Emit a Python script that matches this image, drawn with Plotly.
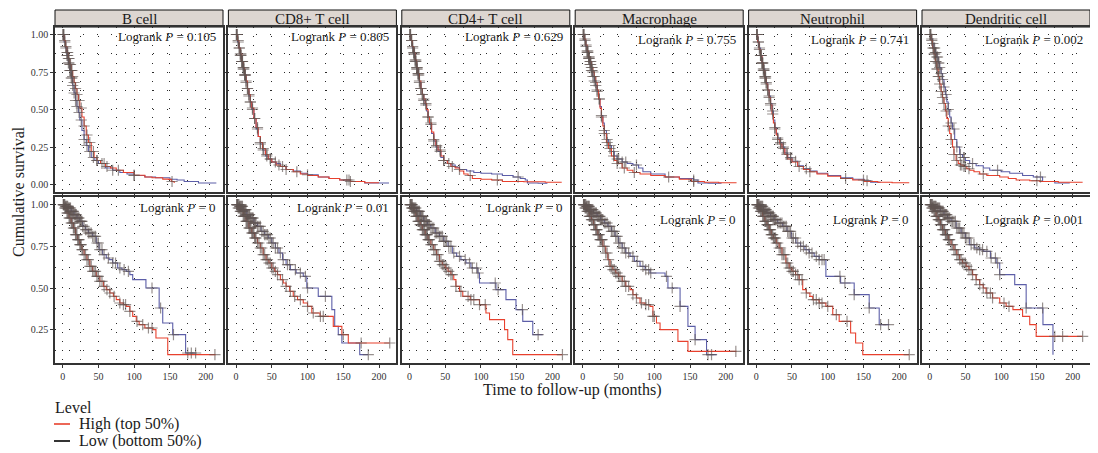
import numpy as np
import plotly.graph_objects as go

# ---------------- data ----------------
CELLS = ["B cell", "CD8+ T cell", "CD4+ T cell", "Macrophage", "Neutrophil", "Dendritic cell"]
COHORTS = ["GBM", "LGG"]
PVALS_GBM = ["0.105", "0.805", "0.629", "0.755", "0.741", "0.002"]
PVALS_LGG = ["0", "0.01", "0", "0", "0", "0.001"]
X_TICKS = [0, 50, 100, 150, 200]
LEGEND_LABELS = ["High (top 50%)", "Low (bottom 50%)"]

# ---- GBM (top row) ----
GBM_B_HIGH_T = [0, 2, 4, 6, 8, 10, 12, 14, 16, 18, 20, 22, 24, 27, 30, 33, 36, 40, 44, 48, 53, 60, 67, 75, 85, 100, 115, 125, 140, 148, 152, 156]
GBM_B_HIGH_S = [1, .96, .92, .88, .84, .80, .76, .72, .68, .64, .60, .56, .51, .45, .39, .33, .28, .22, .18, .16, .14, .12, .11, .095, .08, .062, .05, .045, .036, .034, .02, .01]
GBM_B_LOW_T = [0, 2, 4, 6, 8, 10, 12, 14, 16, 18, 20, 22, 24, 27, 30, 33, 36, 40, 45, 50, 60, 70, 80, 90, 100, 115, 130, 150, 160, 170, 190, 215]
GBM_B_LOW_S = [1, .95, .91, .86, .81, .76, .71, .66, .61, .56, .52, .48, .43, .36, .30, .26, .22, .18, .16, .14, .11, .095, .08, .07, .06, .05, .045, .035, .03, .02, .01, .01]

GBM_CD8_HIGH_T = [0, 2, 4, 6, 8, 10, 12, 14, 16, 18, 20, 22, 25, 28, 31, 34, 37, 41, 45, 50, 56, 62, 70, 80, 90, 100, 115, 130, 145, 160, 180, 200]
GBM_CD8_HIGH_S = [1, .96, .91, .87, .82, .78, .73, .69, .64, .60, .55, .51, .44, .38, .32, .28, .24, .20, .17, .15, .13, .12, .10, .085, .07, .06, .05, .04, .03, .02, .012, .012]
GBM_CD8_LOW_T = [0, 2, 4, 6, 8, 10, 12, 14, 16, 18, 20, 22, 25, 28, 31, 34, 37, 41, 45, 50, 56, 62, 70, 80, 90, 100, 115, 130, 145, 160, 180, 200, 214]
GBM_CD8_LOW_S = [1, .95, .91, .86, .82, .77, .73, .68, .64, .59, .55, .50, .44, .37, .32, .27, .23, .19, .17, .15, .14, .12, .10, .09, .075, .065, .05, .04, .03, .02, .01, .01, .01]

GBM_CD4_HIGH_T = [0, 2, 4, 6, 8, 10, 12, 14, 16, 18, 20, 22, 24, 26, 28, 31, 34, 37, 40, 44, 48, 53, 58, 64, 70, 76, 82, 88, 100, 115, 130, 160, 190, 213]
GBM_CD4_HIGH_S = [1, .96, .92, .88, .83, .78, .74, .69, .64, .60, .57, .54, .50, .45, .41, .35, .30, .26, .23, .19, .16, .14, .12, .11, .09, .07, .06, .04, .035, .03, .02, .018, .015, .015]
GBM_CD4_LOW_T = [0, 2, 4, 6, 8, 10, 12, 14, 16, 18, 20, 22, 24, 26, 28, 31, 34, 37, 40, 44, 48, 53, 58, 64, 70, 80, 90, 100, 115, 130, 145, 155, 162, 165, 180, 193]
GBM_CD4_LOW_S = [1, .96, .91, .87, .82, .77, .73, .68, .64, .60, .56, .53, .49, .45, .40, .34, .29, .25, .22, .18, .16, .14, .13, .115, .10, .09, .08, .075, .07, .06, .05, .04, .03, .01, .008, .008]

GBM_MAC_HIGH_T = [0, 2, 4, 6, 8, 10, 12, 14, 16, 18, 20, 22, 24, 26, 28, 30, 33, 36, 40, 44, 48, 55, 62, 70, 80, 95, 115, 135, 152, 170, 190, 215]
GBM_MAC_HIGH_S = [1, .97, .93, .89, .85, .82, .78, .75, .72, .68, .63, .57, .51, .45, .39, .34, .28, .24, .19, .16, .14, .11, .095, .08, .07, .06, .05, .035, .02, .015, .012, .012]
GBM_MAC_LOW_T = [0, 2, 4, 6, 8, 10, 12, 14, 16, 18, 20, 22, 24, 26, 28, 30, 33, 36, 40, 44, 48, 55, 62, 70, 78, 84, 95, 115, 135, 155, 161, 175, 194]
GBM_MAC_LOW_S = [1, .96, .92, .88, .84, .80, .76, .72, .69, .66, .62, .57, .52, .46, .41, .36, .30, .26, .22, .19, .17, .15, .14, .13, .11, .085, .07, .05, .04, .03, .01, .008, .008]

GBM_NEU_HIGH_T = [0, 2, 4, 6, 8, 10, 12, 14, 16, 18, 20, 22, 24, 26, 28, 30, 33, 36, 40, 44, 50, 58, 66, 75, 85, 100, 118, 135, 151, 170, 190, 214]
GBM_NEU_HIGH_S = [1, .95, .90, .86, .81, .76, .71, .67, .63, .58, .53, .47, .41, .37, .33, .30, .27, .24, .20, .17, .15, .12, .10, .085, .07, .055, .04, .03, .02, .015, .012, .012]
GBM_NEU_LOW_T = [0, 2, 4, 6, 8, 10, 12, 14, 16, 18, 20, 22, 24, 26, 28, 30, 33, 36, 40, 44, 50, 58, 66, 75, 85, 100, 118, 135, 151, 160, 174]
GBM_NEU_LOW_S = [1, .95, .91, .86, .81, .77, .72, .68, .63, .59, .54, .49, .43, .38, .34, .31, .28, .25, .21, .18, .155, .125, .105, .09, .075, .06, .045, .035, .025, .015, .015]

GBM_DC_HIGH_T = [0, 2, 4, 6, 8, 10, 12, 14, 16, 18, 20, 22, 24, 26, 28, 30, 32, 34, 37, 40, 43, 47, 52, 56, 62, 70, 80, 98, 110, 121, 140, 154, 180, 214]
GBM_DC_HIGH_S = [1, .96, .91, .87, .82, .77, .72, .67, .62, .58, .54, .49, .44, .39, .34, .30, .25, .20, .16, .14, .13, .12, .105, .095, .085, .07, .06, .05, .04, .03, .025, .02, .015, .015]
GBM_DC_LOW_T = [0, 2, 4, 6, 8, 10, 12, 14, 16, 18, 20, 22, 24, 26, 28, 30, 32, 35, 38, 42, 46, 50, 56, 65, 75, 84, 100, 112, 130, 145, 158, 175, 196]
GBM_DC_LOW_S = [1, .97, .94, .91, .88, .85, .81, .78, .74, .70, .65, .60, .55, .50, .45, .41, .37, .30, .25, .20, .18, .16, .14, .125, .11, .095, .085, .075, .06, .05, .02, .01, .01]

# ---- LGG (bottom row) ----
LGG_B_HIGH_T = [0, 3, 6, 9, 12, 15, 18, 21, 24, 27, 30, 34, 38, 42, 47, 52, 57, 61, 66, 71, 75, 80, 85, 89, 94, 98, 103, 107, 115, 126, 130.5, 147, 214]
LGG_B_HIGH_S = [1, .98, .95, .92, .89, .86, .82, .79, .76, .73, .70, .67, .63, .60, .57, .54, .51, .49, .47, .45, .43, .41, .40, .39, .36, .33, .30, .28, .26, .25, .20, .10, .10]
LGG_B_LOW_T = [0, 4, 8, 12, 16, 20, 24, 28, 32, 36, 42, 47, 51, 56, 61, 65, 70, 77, 83, 89, 94, 98, 116.5, 135, 140, 154, 172, 186]
LGG_B_LOW_S = [1, .99, .98, .96, .94, .92, .90, .87, .85, .83, .81, .77, .73, .70, .68, .67, .65, .62, .61, .60, .58, .55, .50, .38, .29, .22, .11, .11]

LGG_CD8_HIGH_T = [0, 3, 6, 10, 14, 18, 22, 26, 30, 34, 38, 42, 46, 50, 54, 58, 62, 66, 70, 75, 80, 86, 94, 100, 106, 117.5, 136, 148, 157, 215]
LGG_CD8_HIGH_S = [1, .98, .96, .93, .90, .86, .83, .80, .77, .74, .70, .67, .65, .62, .60, .58, .55, .53, .51, .48, .45, .43, .41, .39, .35, .33, .27, .22, .17, .17]
LGG_CD8_LOW_T = [0, 5, 10, 15, 20, 25, 30, 35, 40, 45, 50, 55, 60, 65, 70, 76, 84, 94, 99, 115, 134, 138, 143, 148, 173, 185]
LGG_CD8_LOW_S = [1, .99, .97, .94, .92, .89, .87, .84, .82, .80, .77, .74, .71, .67, .64, .61, .59, .57, .50, .45, .37, .27, .22, .17, .10, .10]

LGG_CD4_HIGH_T = [0, 3, 6, 9, 12, 15, 18, 22, 26, 30, 34, 38, 42, 46, 50, 54, 58, 62, 65, 70, 74.6, 85, 98, 107, 112, 133, 137.5, 144.5, 214]
LGG_CD4_HIGH_S = [1, .98, .96, .93, .90, .88, .85, .82, .79, .76, .73, .70, .66, .64, .62, .60, .58, .55, .51, .48, .45, .43, .40, .35, .31, .25, .19, .10, .10]
LGG_CD4_LOW_T = [0, 5, 10, 15, 20, 25, 30, 36, 42, 48, 54, 60, 66, 72, 79, 86, 95.6, 98, 121, 135, 149, 158.5, 172.5, 186.5]
LGG_CD4_LOW_S = [1, .98, .96, .93, .90, .88, .86, .83, .81, .78, .75, .71, .69, .67, .65, .62, .59, .53, .49, .43, .37, .30, .22, .22]

LGG_MAC_HIGH_T = [0, 3, 6, 9, 12, 15, 18, 21, 24, 28, 32, 35, 38, 42, 46, 50, 55, 60, 66, 70, 75, 80, 87, 94, 98, 103, 108, 133, 147, 215]
LGG_MAC_HIGH_S = [1, .98, .96, .93, .91, .88, .85, .82, .79, .75, .71, .67, .63, .61, .59, .57, .54, .51, .49, .46, .44, .41, .40, .39, .33, .29, .25, .18, .12, .12]
LGG_MAC_LOW_T = [0, 5, 10, 15, 20, 25, 30, 35, 40, 45, 50, 55, 60, 66, 72, 80, 87, 94, 115, 119, 136, 147, 157, 173, 187]
LGG_MAC_LOW_S = [1, .99, .97, .95, .93, .91, .89, .87, .84, .81, .77, .74, .71, .69, .66, .63, .61, .59, .57, .50, .39, .27, .19, .10, .10]

LGG_NEU_HIGH_T = [0, 3, 6, 9, 12, 15, 18, 21, 24, 28, 32, 36, 41.5, 46, 50, 55, 60, 65, 70, 75, 79, 88, 97.4, 107, 116, 132, 139, 149, 214]
LGG_NEU_HIGH_S = [1, .98, .96, .93, .90, .88, .85, .82, .80, .77, .74, .70, .65, .62, .60, .58, .55, .49, .47, .45, .43, .41, .39, .34, .30, .23, .17, .10, .10]
LGG_NEU_LOW_T = [0, 5, 10, 15, 20, 25, 30, 37, 43, 49, 55.5, 62, 68, 74, 81, 88, 97.4, 118, 137, 158, 172, 186]
LGG_NEU_LOW_S = [1, .99, .97, .95, .93, .91, .89, .87, .84, .80, .77, .75, .73, .71, .69, .67, .57, .53, .46, .38, .28, .28]

LGG_DC_HIGH_T = [0, 3, 6, 9, 12, 15, 18, 22, 26, 30, 34, 38, 42, 46, 51, 55, 60, 65, 70, 75, 79, 88, 98, 107, 116.5, 130, 140, 149, 214]
LGG_DC_HIGH_S = [1, .98, .96, .93, .91, .88, .85, .82, .79, .76, .73, .70, .67, .65, .63, .61, .58, .55, .52, .50, .47, .44, .41, .39, .37, .33, .28, .21, .21]
LGG_DC_LOW_T = [0, 5, 10, 15, 20, 25, 30, 37, 44, 50, 56, 63, 70, 75, 85, 93, 98, 119, 135, 158.5, 172.5]
LGG_DC_LOW_S = [1, .99, .98, .96, .94, .92, .90, .86, .83, .80, .76, .74, .73, .72, .68, .65, .58, .52, .38, .28, .10]

# ---- censoring times ----
GBM_CENSOR_EARLY = [0.5, 1.5, 3, 4.5, 6, 7, 8, 9, 10, 11, 12, 13, 14, 16, 18, 20, 23, 26, 30, 34, 38, 43, 48]
GBM_B_HIGH_CENS = [55, 62, 78, 100, 153]
GBM_B_LOW_CENS = [58, 70, 100]
GBM_CD8_HIGH_CENS = [60, 70, 85, 155, 160]
GBM_CD8_LOW_CENS = [55, 65, 100, 158]
GBM_CD4_HIGH_CENS = [60, 85, 123]
GBM_CD4_LOW_CENS = [55, 70, 152]
GBM_MAC_HIGH_CENS = [58, 72, 120, 155]
GBM_MAC_LOW_CENS = [50, 55, 60, 75, 155]
GBM_NEU_HIGH_CENS = [60, 75, 125, 150]
GBM_NEU_LOW_CENS = [55, 70, 155]
GBM_DC_HIGH_CENS = [45, 50, 55, 75, 150]
GBM_DC_LOW_CENS = [48, 60, 95, 155]

LGG_CENSOR_EARLY = [1, 2, 3, 4, 5, 6, 7, 8, 9, 10, 11, 12, 13, 14, 15, 16, 17, 18, 19, 20, 21, 22, 23, 24, 25, 26, 27, 28,
                    30, 32, 34, 36, 38, 40, 42, 44, 46, 48, 50, 52, 55, 58]
LGG_B_HIGH_CENS = [62, 66, 72, 80, 85, 88, 94, 104, 112, 120, 125, 213]
LGG_B_LOW_CENS = [64, 70, 74, 80, 86, 92, 125, 137, 155, 175, 180, 186]
LGG_CD8_HIGH_CENS = [65, 70, 76, 82, 90, 100, 108, 118, 122, 150, 175, 215]
LGG_CD8_LOW_CENS = [62, 66, 72, 75, 83, 90, 97, 100, 125, 185]
LGG_CD4_HIGH_CENS = [60, 65, 72, 82, 86, 90, 98, 106, 214]
LGG_CD4_LOW_CENS = [62, 70, 78, 84, 88, 94, 96, 120, 124, 158, 180]
LGG_MAC_HIGH_CENS = [60, 64, 70, 75, 82, 88, 92, 98, 100, 214]
LGG_MAC_LOW_CENS = [60, 64, 70, 76, 84, 88, 92, 95, 117, 125, 136, 157, 175, 180]
LGG_NEU_HIGH_CENS = [60, 64, 70, 80, 84, 88, 92, 100, 112, 127, 214]
LGG_NEU_LOW_CENS = [62, 66, 70, 74, 78, 84, 88, 92, 95, 117, 124, 137, 158, 174, 185]
LGG_DC_HIGH_CENS = [60, 65, 70, 75, 80, 85, 88, 104, 111, 175, 186, 214]
LGG_DC_LOW_CENS = [62, 66, 70, 74, 80, 86, 92, 95, 98, 135, 158]

PANELS = [
    [(GBM_B_HIGH_T, GBM_B_HIGH_S, GBM_B_HIGH_CENS, GBM_B_LOW_T, GBM_B_LOW_S, GBM_B_LOW_CENS),
     (GBM_CD8_HIGH_T, GBM_CD8_HIGH_S, GBM_CD8_HIGH_CENS, GBM_CD8_LOW_T, GBM_CD8_LOW_S, GBM_CD8_LOW_CENS),
     (GBM_CD4_HIGH_T, GBM_CD4_HIGH_S, GBM_CD4_HIGH_CENS, GBM_CD4_LOW_T, GBM_CD4_LOW_S, GBM_CD4_LOW_CENS),
     (GBM_MAC_HIGH_T, GBM_MAC_HIGH_S, GBM_MAC_HIGH_CENS, GBM_MAC_LOW_T, GBM_MAC_LOW_S, GBM_MAC_LOW_CENS),
     (GBM_NEU_HIGH_T, GBM_NEU_HIGH_S, GBM_NEU_HIGH_CENS, GBM_NEU_LOW_T, GBM_NEU_LOW_S, GBM_NEU_LOW_CENS),
     (GBM_DC_HIGH_T, GBM_DC_HIGH_S, GBM_DC_HIGH_CENS, GBM_DC_LOW_T, GBM_DC_LOW_S, GBM_DC_LOW_CENS)],
    [(LGG_B_HIGH_T, LGG_B_HIGH_S, LGG_B_HIGH_CENS, LGG_B_LOW_T, LGG_B_LOW_S, LGG_B_LOW_CENS),
     (LGG_CD8_HIGH_T, LGG_CD8_HIGH_S, LGG_CD8_HIGH_CENS, LGG_CD8_LOW_T, LGG_CD8_LOW_S, LGG_CD8_LOW_CENS),
     (LGG_CD4_HIGH_T, LGG_CD4_HIGH_S, LGG_CD4_HIGH_CENS, LGG_CD4_LOW_T, LGG_CD4_LOW_S, LGG_CD4_LOW_CENS),
     (LGG_MAC_HIGH_T, LGG_MAC_HIGH_S, LGG_MAC_HIGH_CENS, LGG_MAC_LOW_T, LGG_MAC_LOW_S, LGG_MAC_LOW_CENS),
     (LGG_NEU_HIGH_T, LGG_NEU_HIGH_S, LGG_NEU_HIGH_CENS, LGG_NEU_LOW_T, LGG_NEU_LOW_S, LGG_NEU_LOW_CENS),
     (LGG_DC_HIGH_T, LGG_DC_HIGH_S, LGG_DC_HIGH_CENS, LGG_DC_LOW_T, LGG_DC_LOW_S, LGG_DC_LOW_CENS)],
]
CENSOR_EARLY = [GBM_CENSOR_EARLY, LGG_CENSOR_EARLY]
PVALS = [PVALS_GBM, PVALS_LGG]

# ---------------- styling / layout ----------------
W, H = 1098, 453
OFF = 8  # page body margin: figure is drawn 8px in from the window corner
FONT = "Liberation Serif"
RED = "#E8402D"
BLUE = "#5C5EA8"
MARK = "rgba(95,85,82,0.65)"
STRIP_FILL = "#DDD6D1"
GRID = "#2a2a2a"

COL_LEFT = [55, 228.4, 401.8, 575.2, 748.6, 922]
PANEL_W = 168
ROW_TB = [(27, 192), (197, 363)]
X_RANGE = [-10.7, 224.3]
Y_RANGES = [[-0.05, 1.05], [0.05, 1.046]]
LABEL_Y = [[0.985, 0.985, 0.985, 0.965, 0.965, 0.965], [0.985, 0.985, 0.985, 0.91, 0.91, 0.91]]


def px_x(p):
    return (p - OFF) / W


def px_y(p):
    return 1 - (p - OFF) / H


def step_value(ts, ss, t):
    ts = np.asarray(ts, dtype=float)
    ss = np.asarray(ss, dtype=float)
    idx = np.searchsorted(ts, t, side="right") - 1
    idx = np.clip(idx, 0, len(ss) - 1)
    return ss[idx]


fig = go.Figure()
layout = dict(
    width=W, height=H, margin=dict(l=0, r=0, t=0, b=0),
    paper_bgcolor="white", plot_bgcolor="white", showlegend=False,
    font=dict(family=FONT, color="#1a1a1a"),
)
annotations = []
shapes = []

for r in range(2):
    top, bot = ROW_TB[r]
    for c in range(6):
        k = r * 6 + c + 1
        xn = "x" if k == 1 else f"x{k}"
        yn = "y" if k == 1 else f"y{k}"
        hi_t, hi_s, hi_c, lo_t, lo_s, lo_c = PANELS[r][c]
        for ts, ss, cens, col in ((lo_t, lo_s, lo_c, BLUE), (hi_t, hi_s, hi_c, RED)):
            fig.add_trace(go.Scatter(x=ts, y=ss, mode="lines", line=dict(color=col, width=1.1, shape="hv"),
                                     xaxis=xn, yaxis=yn, hoverinfo="skip"))
        for ts, ss, cens in ((lo_t, lo_s, lo_c), (hi_t, hi_s, hi_c)):
            ct = np.array([t for t in CENSOR_EARLY[r] + cens if t <= ts[-1]], dtype=float)
            cy = step_value(ts, ss, ct)
            fig.add_trace(go.Scatter(x=ct, y=cy, mode="markers",
                                     marker=dict(symbol="cross-thin", size=8, color=MARK,
                                                 line=dict(width=1.2, color=MARK)),
                                     xaxis=xn, yaxis=yn, hoverinfo="skip"))
        axkey = "xaxis" if k == 1 else f"xaxis{k}"
        aykey = "yaxis" if k == 1 else f"yaxis{k}"
        layout[axkey] = dict(
            domain=[px_x(COL_LEFT[c]), px_x(COL_LEFT[c] + PANEL_W)], anchor=yn,
            range=X_RANGE, tickmode="array", tickvals=X_TICKS, showticklabels=(r == 1),
            ticks="outside", ticklen=3, tickwidth=1, tickcolor="#333",
            tickfont=dict(size=10, color="#333", family=FONT),
            showline=True, mirror=True, linecolor="#333", linewidth=1.5, zeroline=False,
            showgrid=True, gridcolor=GRID, gridwidth=1, griddash="1px,8px",
            minor=dict(tickvals=[25, 75, 125, 175, 225], showgrid=True, gridcolor=GRID, gridwidth=1,
                       griddash="1px,8px", ticks=""),
        )
        layout[aykey] = dict(
            domain=[px_y(bot), px_y(top)], anchor=xn,
            range=Y_RANGES[r], tickmode="linear", tick0=0, dtick=0.25, tickformat=".2f",
            showticklabels=(c == 0),
            ticks="outside", ticklen=3, tickwidth=1, tickcolor="#333",
            tickfont=dict(size=10, color="#333", family=FONT),
            showline=True, mirror=True, linecolor="#333", linewidth=1.5, zeroline=False,
            showgrid=True, gridcolor=GRID, gridwidth=1, griddash="1px,13px",
            minor=dict(tick0=0, dtick=0.125, showgrid=True, gridcolor=GRID, gridwidth=1,
                       griddash="1px,13px", ticks=""),
        )
        annotations.append(dict(
            xref=xn, yref=yn, x=217, y=LABEL_Y[r][c], xanchor="right", yanchor="middle",
            text=f"Logrank <i>P</i> = {PVALS[r][c]}", showarrow=False,
            font=dict(size=13, family=FONT, color="#1a1a1a")))

# top strips
for c in range(6):
    shapes.append(dict(type="rect", xref="paper", yref="paper",
                       x0=px_x(COL_LEFT[c]), x1=px_x(COL_LEFT[c] + PANEL_W),
                       y0=px_y(27), y1=px_y(10), fillcolor=STRIP_FILL,
                       line=dict(color="#111", width=1), layer="below"))
    annotations.append(dict(xref="paper", yref="paper", x=px_x(COL_LEFT[c] + PANEL_W / 2), y=px_y(18.5),
                            xanchor="center", yanchor="middle", text=CELLS[c], showarrow=False,
                            font=dict(size=15, family=FONT, color="#1a1a1a")))

# right strips
for r in range(2):
    top, bot = ROW_TB[r]
    shapes.append(dict(type="rect", xref="paper", yref="paper",
                       x0=px_x(1091), x1=px_x(1125), y0=px_y(bot), y1=px_y(top),
                       fillcolor=STRIP_FILL, line=dict(color="#111", width=1), layer="below"))
    annotations.append(dict(xref="paper", yref="paper", x=px_x(1102), y=px_y((top + bot) / 2),
                            xanchor="center", yanchor="middle", text=COHORTS[r], textangle=90,
                            showarrow=False, font=dict(size=15, family=FONT, color="#1a1a1a")))

# axis titles
annotations.append(dict(xref="paper", yref="paper", x=px_x(572), y=px_y(390), xanchor="center", yanchor="middle",
                        text="Time to follow-up (months)", showarrow=False,
                        font=dict(size=16, family=FONT, color="#1a1a1a")))
annotations.append(dict(xref="paper", yref="paper", x=px_x(18), y=px_y(192), xanchor="center", yanchor="middle",
                        text="Cumulative survival", textangle=-90, showarrow=False,
                        font=dict(size=16, family=FONT, color="#1a1a1a")))

# legend
annotations.append(dict(xref="paper", yref="paper", x=px_x(53), y=px_y(407), xanchor="left", yanchor="middle",
                        text="Level", showarrow=False, font=dict(size=16, family=FONT, color="#1a1a1a")))
for i, (lab, col) in enumerate(zip(LEGEND_LABELS, [RED, "#000000"])):
    yy = 424 + 17 * i
    shapes.append(dict(type="line", xref="paper", yref="paper", x0=px_x(54), x1=px_x(70),
                       y0=px_y(yy), y1=px_y(yy), line=dict(color=col, width=1.6)))
    annotations.append(dict(xref="paper", yref="paper", x=px_x(77), y=px_y(yy), xanchor="left",
                            yanchor="middle", text=lab, showarrow=False,
                            font=dict(size=16, family=FONT, color="#1a1a1a")))

layout["annotations"] = annotations
layout["shapes"] = shapes
fig.update_layout(**layout)
fig.write_html("out.html")
